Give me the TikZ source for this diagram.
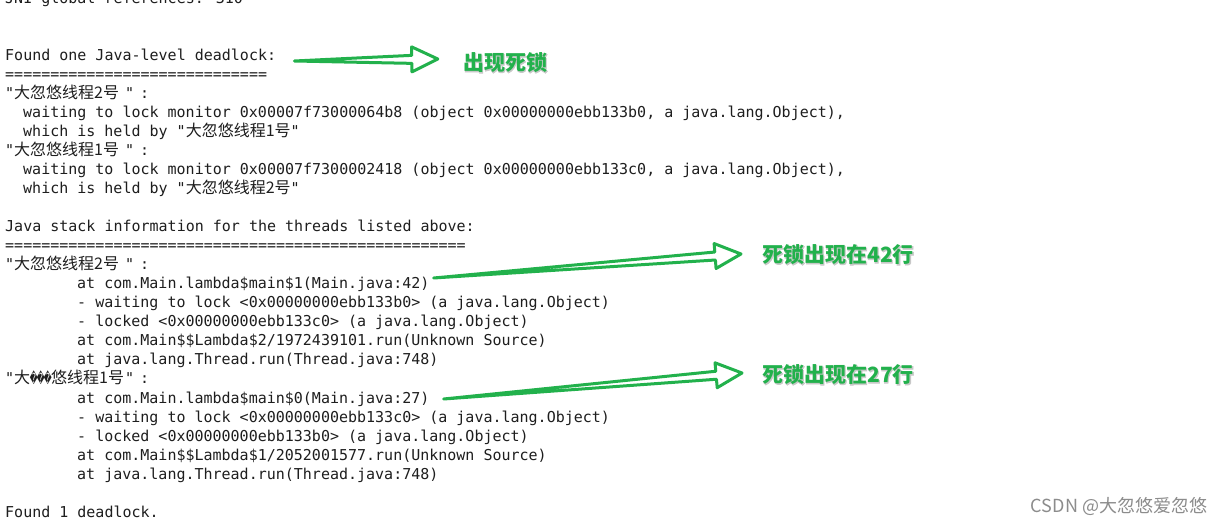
\documentclass[tikz,border=0pt]{standalone}
\usepackage{fontspec}
\usepackage{graphicx}
\usetikzlibrary{calc}
\newfontfamily\term{DejaVu Sans Mono}
\newfontfamily\cjk{Noto Sans CJK SC}
\newfontfamily\cjkhalo{Noto Sans CJK SC}[BoldFeatures={FakeBold=3}]
\newfontfamily\dejavu{DejaVu Sans}
\definecolor{termtext}{RGB}{30,30,30}
\definecolor{arrowgreen}{RGB}{34,177,76}
\definecolor{halogray}{RGB}{200,200,200}
\definecolor{markgray}{RGB}{140,140,140}
\newcommand\zhfont{\cjk\fontsize{16bp}{19bp}\selectfont}
\newcommand\repl{\makebox[7bp]{\dejavu\fontsize{14bp}{19bp}\selectfont\scalebox{0.55}[1]{�}}}
\newcommand\thread[1]{"\makebox[111bp][l]{\zhfont #1}"\hspace{6bp}:}
\newcommand\tagtext[1]{\rlap{\kern0.6bp\raisebox{-0.6bp}{\cjkhalo\bfseries\color{halogray}#1}}{\cjk\bfseries\color{arrowgreen}#1}}
\newcommand\hollowarrow[2]{%
  \draw[greenarrow] (#1)
    -- ($(#2)!26bp!(#1)!4bp!90:(#2)$)
    -- ($(#2)!26bp!(#1)!12.5bp!90:(#2)$)
    -- (#2)
    -- ($(#2)!26bp!(#1)!12.5bp!-90:(#2)$)
    -- ($(#2)!26bp!(#1)!4bp!-90:(#2)$)
    -- cycle;}
\tikzset{
  line/.style={anchor=base west, inner sep=0pt, text=termtext, font=\term\fontsize{15bp}{19bp}\selectfont},
  tag/.style={inner sep=0pt, font=\fontsize{21bp}{25bp}\selectfont},
  greenarrow/.style={draw=arrowgreen, line width=3bp, line join=round, line cap=round}
}
\begin{document}
\begin{tikzpicture}[x=1bp,y=-1bp]
    \useasboundingbox (0,0) rectangle (1226,525);
    \fill[white] (0,0) rectangle (1226,525);
    %deadlock summary
    \node[line] (jni) at (5,4) {JNI global references: 310};
    \node[line] (found) at (5,61) {Found one Java-level deadlock:};
    \node[line] (eqa) at (5,80) {=============================};
    \node[line] (thrA) at (5,99) {\thread{大忽悠线程2号}};
    \node[line] (waitA) at (23,118) {waiting to lock monitor 0x00007f73000064b8 (object 0x00000000ebb133b0, a java.lang.Object),};
    \node[line] (heldA) at (23,137) {which is held by "{\zhfont 大忽悠线程1号}"};
    \node[line] (thrB) at (5,156) {\thread{大忽悠线程1号}};
    \node[line] (waitB) at (23,175) {waiting to lock monitor 0x00007f7300002418 (object 0x00000000ebb133c0, a java.lang.Object),};
    \node[line] (heldB) at (23,194) {which is held by "{\zhfont 大忽悠线程2号}"};
    %stacks
    \node[line] (stack) at (5,232) {Java stack information for the threads listed above:};
    \node[line] (eqb) at (5,251) {===================================================};
    \node[line] (stA) at (5,270) {\thread{大忽悠线程2号}};
    \node[line] (a1) at (77,289) {at com.Main.lambda\$main\$1(Main.java:42)};
    \node[line] (a2) at (77,308) {- waiting to lock <0x00000000ebb133b0> (a java.lang.Object)};
    \node[line] (a3) at (77,327) {- locked <0x00000000ebb133c0> (a java.lang.Object)};
    \node[line] (a4) at (77,346) {at com.Main\$\$Lambda\$2/1972439101.run(Unknown Source)};
    \node[line] (a5) at (77,365) {at java.lang.Thread.run(Thread.java:748)};
    \node[line] (stB) at (5,384) {\thread{大\repl\repl\repl 悠线程1号}};
    \node[line] (b1) at (77,403) {at com.Main.lambda\$main\$0(Main.java:27)};
    \node[line] (b2) at (77,422) {- waiting to lock <0x00000000ebb133c0> (a java.lang.Object)};
    \node[line] (b3) at (77,441) {- locked <0x00000000ebb133b0> (a java.lang.Object)};
    \node[line] (b4) at (77,460) {at com.Main\$\$Lambda\$1/2052001577.run(Unknown Source)};
    \node[line] (b5) at (77,479) {at java.lang.Thread.run(Thread.java:748)};
    \node[line] (total) at (5,517) {Found 1 deadlock.};
    %notes
    \node[tag] (noteA) at (505,63) {\tagtext{出现死锁}};
    \node[tag] (noteB) at (838,255) {\tagtext{死锁出现在42行}};
    \node[tag] (noteC) at (838,375) {\tagtext{死锁出现在27行}};
    %arrows
    \coordinate (tailA) at ($(found.base east)+(18,0)$);
    \coordinate (tailB) at ($(a1.base east)+(4,-11)$);
    \coordinate (tailC) at ($(b1.base east)+(14,-4)$);
    \coordinate (tipA) at ($(noteA.west)+(-25,-4)$);
    \coordinate (tipB) at ($(noteB.west)+(-21,-1)$);
    \coordinate (tipC) at ($(noteC.west)+(-20,-2)$);
    \hollowarrow{tailA}{tipA}
    \hollowarrow{tailB}{tipB}
    \hollowarrow{tailC}{tipC}
    %watermark
    \node[inner sep=0pt, text=markgray, font=\cjk\fontsize{18bp}{21bp}\selectfont] (mark) at (1119,506) {CSDN @大忽悠爱忽悠};
\end{tikzpicture}
\end{document}
